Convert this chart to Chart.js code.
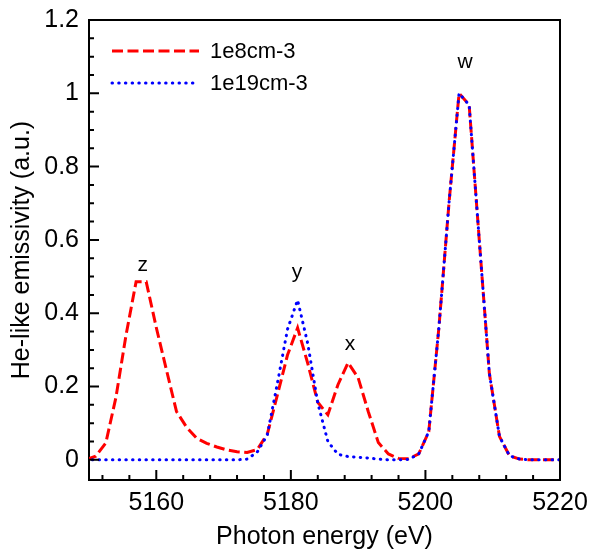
<!DOCTYPE html>
<html>
<head>
<meta charset="utf-8">
<script src="https://cdn.jsdelivr.net/npm/chart.js@4.4.1/dist/chart.umd.min.js"></script>
<style>
html, body { margin: 0; padding: 0; background: #fff; }
</style>
</head>
<body>
<canvas id="myChart" width="590" height="552"></canvas>
<script>
// photon energy grid (eV)
const energy = [5149.5, 5151, 5152.5, 5154, 5155.5, 5157, 5158.5, 5160, 5161.5, 5163,
    5164.5, 5166, 5167.5, 5169, 5170.5, 5172, 5173.5, 5175, 5176.5, 5178,
    5179.5, 5181, 5182.5, 5184, 5185.5, 5187, 5188.5, 5190, 5191.5, 5193,
    5194.5, 5196, 5197.5, 5199, 5200.5, 5202, 5203.5, 5205, 5206.5, 5208,
    5209.5, 5211, 5212.5, 5214, 5215.5, 5217, 5218.5, 5220]

// emissivity at 1e8 cm-3
const lowDensity = [0, 0.01, 0.046, 0.17, 0.34, 0.486, 0.486, 0.361, 0.246, 0.132,
    0.089, 0.059, 0.045, 0.035, 0.027, 0.022, 0.02, 0.028, 0.07, 0.177,
    0.286, 0.36, 0.264, 0.157, 0.123, 0.205, 0.265, 0.224, 0.132, 0.047,
    0.016, 0.004, 0.003, 0.016, 0.077, 0.36, 0.70, 1.0, 0.968, 0.60,
    0.236, 0.064, 0.011, 0.002, 0, 0, 0, 0]

// emissivity at 1e19 cm-3
const highDensity = [0, 0, 0, 0, 0, 0, 0, 0, 0, 0,
    0, 0, 0, 0, 0, 0, 0.002, 0.021, 0.068, 0.209,
    0.356, 0.436, 0.318, 0.155, 0.05, 0.015, 0.009, 0.007, 0.005, 0.002,
    0, 0, 0.001, 0.016, 0.077, 0.36, 0.70, 1.0, 0.968, 0.60,
    0.236, 0.064, 0.011, 0.002, 0, 0, 0, 0]

const xTicks = [5160, 5180, 5200, 5220]
const yTicks = [0, 0.2, 0.4, 0.6, 0.8, 1, 1.2]

// line names and where they sit (data coords)
const lineNames = ['z', 'y', 'x', 'w']
const lineNameX = [5158, 5180.9, 5188.8, 5205.9]
const lineNameY = [0.515, 0.496, 0.30, 1.069]

const FONT = '"Liberation Sans", Arial, sans-serif'

// inward ticks, frame, legend and line names
const extras = {
    id: 'extras',
    afterDraw(chart) {
        const ctx = chart.ctx
        const xs = chart.scales.x, ys = chart.scales.y
        const area = chart.chartArea
        ctx.save()
        ctx.strokeStyle = '#000'
        ctx.lineWidth = 2
        // frame top and right
        ctx.beginPath()
        ctx.moveTo(area.left - 1, area.top)
        ctx.lineTo(area.right, area.top)
        ctx.lineTo(area.right, area.bottom + 1)
        ctx.stroke()
        // x ticks every 4 eV, major at labels
        ctx.beginPath()
        for (let v = 5152; v <= 5220; v += 4) {
            const len = xTicks.includes(v) ? 10 : 5
            const px = xs.getPixelForValue(v)
            ctx.moveTo(px, area.bottom)
            ctx.lineTo(px, area.bottom - len)
        }
        // y ticks every 0.05, major every 0.2
        for (let i = 0; i <= 24; i++) {
            const len = i % 4 === 0 ? 10 : 5
            const py = ys.getPixelForValue(i * 0.05)
            ctx.moveTo(area.left, py)
            ctx.lineTo(area.left + len, py)
        }
        ctx.stroke()

        // legend
        const sets = chart.data.datasets
        ctx.font = '22px ' + FONT
        ctx.fillStyle = '#000'
        ctx.textBaseline = 'middle'
        sets.forEach((ds, k) => {
            const y = area.top + 31 + k * 32
            ctx.strokeStyle = ds.borderColor
            ctx.lineWidth = ds.borderWidth
            ctx.lineCap = ds.borderCapStyle
            ctx.setLineDash(ds.borderDash)
            ctx.beginPath()
            ctx.moveTo(area.left + 23, y)
            ctx.lineTo(area.left + 110, y)
            ctx.stroke()
            ctx.setLineDash([])
            ctx.fillText(ds.label, area.left + 121, y + 1)
        })

        // line names
        ctx.font = '21px ' + FONT
        ctx.textAlign = 'center'
        ctx.textBaseline = 'alphabetic'
        lineNames.forEach((t, k) => {
            ctx.fillText(t, xs.getPixelForValue(lineNameX[k]), ys.getPixelForValue(lineNameY[k]))
        })
        ctx.restore()
    }
}

let myChart = document.querySelector('#myChart').getContext('2d')
let emissivityChart = new Chart(myChart, {
    type: 'line',
    data: {
        datasets: [{
            label: '1e8cm-3',
            data: energy.map((e, i) => ({ x: e, y: lowDensity[i] })),
            borderColor: '#ff0000',
            borderWidth: 3,
            borderDash: [11, 4.5],
            borderCapStyle: 'butt',
            pointRadius: 0,
            tension: 0,
            order: 2
        }, {
            label: '1e19cm-3',
            data: energy.map((e, i) => ({ x: e, y: highDensity[i] })),
            borderColor: '#0000ff',
            borderWidth: 3,
            borderDash: [0.5, 6.2],
            borderCapStyle: 'round',
            pointRadius: 0,
            tension: 0,
            order: 1
        }]
    },
    options: {
        responsive: false,
        animation: false,
        layout: { padding: { top: 20, right: 30, left: 0, bottom: 0 } },
        plugins: { legend: { display: false }, tooltip: { enabled: false } },
        scales: {
            x: {
                type: 'linear',
                min: 5150,
                max: 5220,
                afterBuildTicks: s => { s.ticks = xTicks.map(v => ({ value: v })) },
                afterFit: s => { s.height = 72; s.paddingLeft = 0; s.paddingRight = 0 },
                ticks: { color: '#000', font: { family: FONT, size: 25 }, padding: 8, maxRotation: 0, autoSkip: false, callback: v => String(v) },
                grid: { display: false, drawTicks: false },
                border: { display: true, color: '#000', width: 2 },
                title: { display: true, text: 'Photon energy (eV)', color: '#000', font: { family: FONT, size: 25 }, padding: { top: 0, bottom: 0 } }
            },
            y: {
                min: -0.055,
                max: 1.2,
                afterBuildTicks: s => { s.ticks = yTicks.map(v => ({ value: v })) },
                afterFit: s => { s.width = 89; s.paddingTop = 0; s.paddingBottom = 0 },
                ticks: { color: '#000', font: { family: FONT, size: 25 }, padding: 10, callback: v => String(+v.toFixed(1)) },
                grid: { display: false, drawTicks: false },
                border: { display: true, color: '#000', width: 2 },
                title: { display: true, text: 'He-like emissivity (a.u.)', color: '#000', font: { family: FONT, size: 25 }, padding: { top: 7, bottom: 0 } }
            }
        }
    },
    plugins: [extras]
})
</script>
</body>
</html>
